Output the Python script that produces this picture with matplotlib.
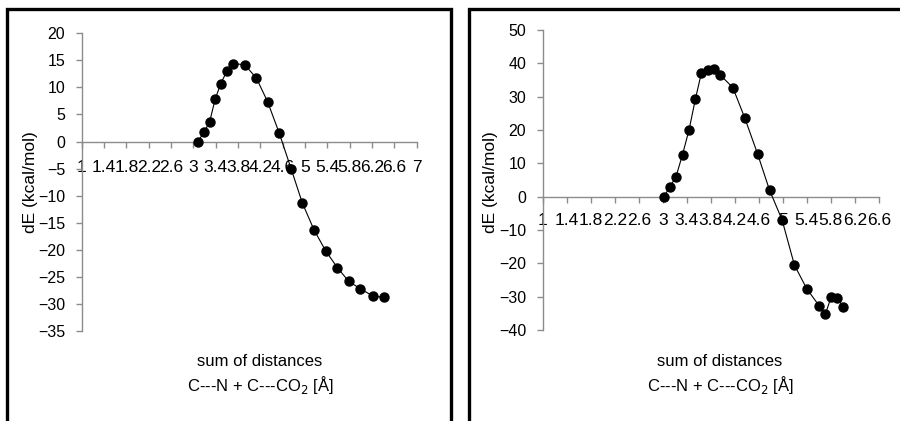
import numpy as np
import matplotlib
matplotlib.use("Agg")
import matplotlib.pyplot as plt
from matplotlib.lines import Line2D

plt.rcParams['font.family'] = ['Liberation Sans', 'DejaVu Sans']

# energy profiles along the summed C---N + C---CO2 distance
dist_a = [3.08, 3.19, 3.29, 3.39, 3.49, 3.60, 3.71, 3.92, 4.13, 4.33,
          4.54, 4.75, 4.95, 5.16, 5.37, 5.58, 5.78, 5.99, 6.21, 6.41]
de_a = [0.0, 1.7, 3.6, 7.8, 10.7, 13.0, 14.4, 14.2, 11.7, 7.35,
        1.5, -5.0, -11.3, -16.3, -20.2, -23.3, -25.8, -27.2, -28.5, -28.8]

dist_b = [3.02, 3.12, 3.22, 3.33, 3.44, 3.545, 3.645, 3.75, 3.86, 3.96, 4.17,
          4.37, 4.58, 4.78, 4.99, 5.195, 5.40, 5.61, 5.71, 5.81, 5.91, 6.01]
de_b = [0.0, 3.0, 5.9, 12.6, 20.1, 29.3, 37.1, 37.9, 38.2, 36.5, 32.7,
        23.5, 12.9, 2.0, -7.0, -20.5, -27.6, -32.8, -35.3, -30.0, -30.5, -33.0]

xticks_a = [1, 1.4, 1.8, 2.2, 2.6, 3, 3.4, 3.8, 4.2, 4.6, 5, 5.4, 5.8, 6.2, 6.6, 7]
xticks_b = [1, 1.4, 1.8, 2.2, 2.6, 3, 3.4, 3.8, 4.2, 4.6, 5, 5.4, 5.8, 6.2, 6.6]
yticks_a = list(range(-35, 21, 5))
yticks_b = list(range(-40, 51, 10))

W, H = 900, 421
fig = plt.figure(figsize=(W / 100, H / 100), dpi=100)


def px_box(x0, x1, ytop, ybot):
    return [x0 / W, 1 - ybot / H, (x1 - x0) / W, (ybot - ytop) / H]


def setup(ax, x, y, xticks, yticks, xpad):
    ax.plot(x, y, color='black', lw=0.8, marker='o', ms=6.5,
            mfc='black', mec='black', clip_on=False, zorder=3)
    ax.set_xlim(xticks[0], xticks[-1])
    ax.set_ylim(yticks[0], yticks[-1])
    ax.set_xticks(xticks)
    ax.set_xticklabels([f'{t:g}' for t in xticks])
    ax.set_yticks(yticks)
    for s in ['top', 'right']:
        ax.spines[s].set_visible(False)
    ax.spines['bottom'].set_position(('data', 0))
    for s in ['bottom', 'left']:
        ax.spines[s].set_color('#8c8c8c')
        ax.spines[s].set_linewidth(1.0)
    ax.tick_params(axis='both', colors='#8c8c8c', labelcolor='black',
                   direction='out', length=4, width=1.0)
    ax.tick_params(axis='x', pad=xpad, labelsize=12.5)
    ax.tick_params(axis='y', pad=8, labelsize=11.5)
    ax.patch.set_visible(False)


ax1 = fig.add_axes(px_box(81.7, 416.7, 33.3, 331))
setup(ax1, dist_a, de_a, xticks_a, yticks_a, 9)
ax2 = fig.add_axes(px_box(542.7, 878.7, 30, 330))
setup(ax2, dist_b, de_b, xticks_b, yticks_b, 7.5)

# axis titles
for xl, yl in [(31, 260), (491, 720)]:
    fig.text(xl / W, 1 - 182 / H, 'dE (kcal/mol)', rotation=90,
             ha='center', va='center', fontsize=12.5)
    fig.text(yl / W, 1 - 361 / H, 'sum of distances',
             ha='center', va='center', fontsize=12)
    fig.text(yl / W, 1 - 385 / H, r'C---N + C---CO$_2$ [Å]',
             ha='center', va='center', fontsize=12)

# panel frames
lw = 2.4
frames = [
    ([7, 7, 451, 451], [H + 5, 9, 9, H + 5]),
    ([469, 469, W + 5], [H + 5, 9, 9]),
]
for fx, fy in frames:
    fig.add_artist(Line2D([v / W for v in fx], [1 - v / H for v in fy],
                          color='black', lw=lw, solid_joinstyle='miter'))

fig.savefig('out.png', dpi=100)
